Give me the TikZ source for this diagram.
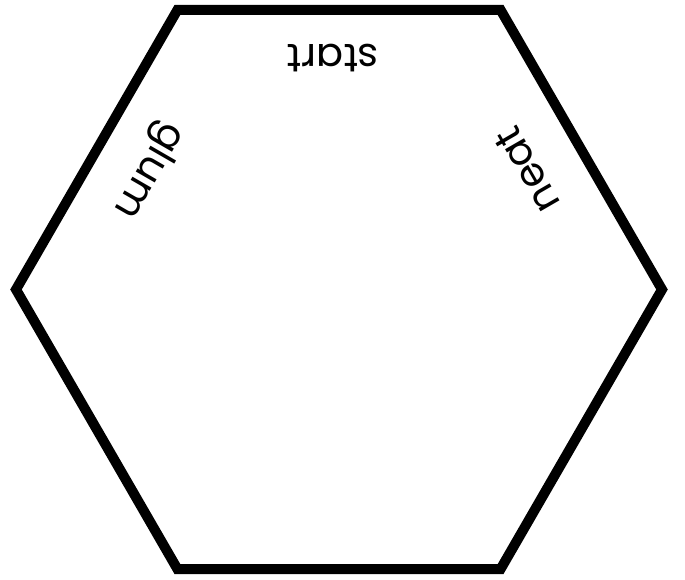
\documentclass[tikz,border=0pt]{standalone}
\usepackage{fontspec}
\setmainfont{Poppins}
\usetikzlibrary{positioning, calc}

\begin{document}
\begin{tikzpicture}[x=1pt, y=-1pt,
      hexline/.style={draw=black, line width=10pt, line join=miter},
      edgelabel/.style={font=\fontsize{40}{44}\selectfont, inner sep=0pt}
    ]
      \useasboundingbox (0,0) rectangle (685,579);
      \coordinate (c) at (339,289.5);
      % hexagon
      \draw[hexline] ($(c)+(323,0)$) -- ($(c)+(161.5,-279.7)$) -- ($(c)+(-161.5,-279.7)$)
        -- ($(c)+(-323,0)$) -- ($(c)+(-161.5,279.7)$) -- ($(c)+(161.5,279.7)$) -- cycle;
      % labels along the upper edges
      \node[edgelabel, rotate=180] (start) at (333,58) {start};
      \node[edgelabel, rotate=240] (glum) at (148,170) {glum};
      \node[edgelabel, rotate=120] (neat) at (527,170) {neat};
    \end{tikzpicture}
\end{document}
